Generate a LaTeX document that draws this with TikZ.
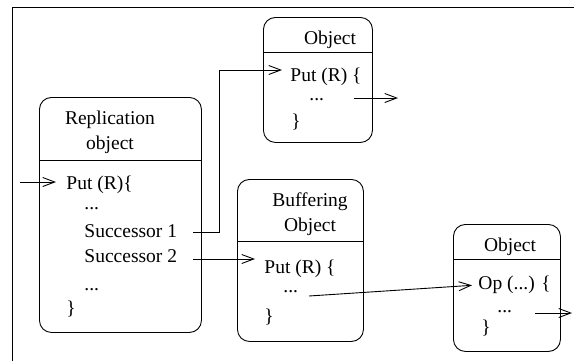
\documentclass[tikz,border=0pt]{standalone}
\usepackage{fontspec}
\setmainfont{Liberation Serif}
\newfontfamily\diagfont{Liberation Serif}
\usetikzlibrary{arrows.meta}
\begin{document}
\begin{tikzpicture}[x=1pt,y=-1pt,
  every node/.style={font=\diagfont\fontsize{19.5}{22}\selectfont, inner sep=0pt},
  objbox/.style={draw, line width=0.9pt, rounded corners=12pt},
  divider/.style={line width=0.9pt},
  code/.style={anchor=base west},
  title/.style={anchor=base},
  flow/.style={line width=0.9pt, -{Straight Barb[length=12pt,width=9pt,line width=0.9pt]}},
  line width=0.9pt]
\useasboundingbox (0,0) rectangle (574,360);
\clip (0,0) rectangle (574,360);
% outer frame
\draw (12,7) rectangle (590,380);

% replication object
\node[objbox, minimum width=162pt, minimum height=235pt, anchor=north west] (rep) at (39,97) {};
\draw[divider] (39,160) -- (201,160);
\node[title] (repT1) at (110,124) {Replication};
\node[title] (repT2) at (110,149) {object};
\node[code] (repPut) at (66,189) {Put (R)\{};
\node[code] (repD1) at (84,209) {...};
\node[code] (succ1) at (84,237) {Successor 1};
\node[code] (succ2) at (84,262) {Successor 2};
\node[code] (repD2) at (84,290) {...};
\node[code] (repEnd) at (66,314) {\}};

% top object
\node[objbox, minimum width=109pt, minimum height=125pt, anchor=north west] (obj1) at (263,17) {};
\draw[divider] (263,52) -- (372,52);
\node[title] (obj1T) at (330,44) {Object};
\node[code] (obj1Put) at (290,81) {Put (R) \{};
\node[code] (obj1D) at (309,100) {...};
\node[code] (obj1End) at (291,127) {\}};

% buffering object
\node[objbox, minimum width=126pt, minimum height=162pt, anchor=north west] (buf) at (237,179) {};
\draw[divider] (237,241) -- (363,241);
\node[title] (bufT1) at (310,206) {Buffering};
\node[title] (bufT2) at (310,231) {Object};
\node[code] (bufPut) at (264,273) {Put (R) \{};
\node[code] (bufD) at (283,292) {...};
\node[code] (bufEnd) at (264,322) {\}};

% right object
\node[objbox, minimum width=107pt, minimum height=127pt, anchor=north west] (obj2) at (453,224) {};
\draw[divider] (453,259) -- (560,259);
\node[title] (obj2T) at (510,251) {Object};
\node[code] (obj2Op) at (478,289) {Op (...) \{};
\node[code] (obj2D) at (497,312) {...};
\node[code] (obj2End) at (481,333) {\}};

% connector end points
\coordinate (inStart) at (20,182);
\coordinate (s1Out) at (193,232);
\coordinate (s1Bend) at (219,232);
\coordinate (s1Top) at (219,70);
\coordinate (s2Out) at (193,259);
\coordinate (bufOut) at (309,296);
\coordinate (obj1Out) at (354,98);
\coordinate (obj1Free) at (398,98);
\coordinate (obj2Out) at (535,313);
\coordinate (obj2Free) at (572,313);

\draw[flow] (inStart) -- ([xshift=-10pt]repPut.west |- inStart);
\draw[flow] (s1Out) -- (s1Bend) -- (s1Top) -- ([xshift=-8pt]obj1Put.west |- s1Top);
\draw[flow] (s2Out) -- ([xshift=-9pt]bufPut.west |- s2Out);
\draw[flow] (bufOut) -- ([xshift=-6pt,yshift=-1pt]obj2Op.west);
\draw[flow] (obj1Out) -- (obj1Free);
\draw[flow] (obj2Out) -- (obj2Free);
\end{tikzpicture}
\end{document}
